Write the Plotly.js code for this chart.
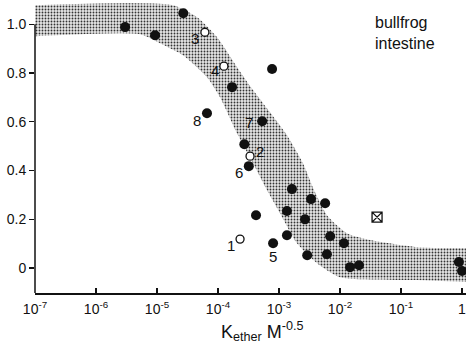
<!DOCTYPE html>
<html>
<head>
<meta charset="utf-8">
<script src="https://cdn.plot.ly/plotly-3.0.1.min.js"></script>
<style>html,body{margin:0;padding:0;background:#fff}#chart{width:466px;height:350px}</style>
</head>
<body>
<div id="chart"></div>
<script>
// Filled circles: K_ether (M^-0.5) and relative value
var filledX = [3.0e-6, 9.3e-6, 2.7e-5, 1.7e-4, 7.7e-4, 6.6e-5, 5.3e-4, 2.7e-4, 3.2e-4, 4.2e-4, 8.0e-4,
               1.35e-3, 1.35e-3, 1.63e-3, 2.67e-3, 2.9e-3, 3.35e-3, 5.7e-3, 6.9e-3, 6.1e-3, 1.16e-2,
               1.46e-2, 2.05e-2, 0.89, 1.0];
var filledY = [0.988, 0.955, 1.045, 0.742, 0.816, 0.635, 0.602, 0.508, 0.418, 0.217, 0.102,
               0.135, 0.234, 0.324, 0.200, 0.053, 0.283, 0.266, 0.131, 0.057, 0.102,
               0.004, 0.012, 0.025, -0.012];
var filledLabels = ['', '', '', '', '', '8', '7', '', '6', '', '5',
                    '', '', '', '', '', '', '', '', '', '',
                    '', '', '', ''];

// Open circles
var openX = [2.3e-4, 3.35e-4, 6.1e-5, 1.25e-4];
var openY = [0.119, 0.459, 0.967, 0.828];
var openLabels = ['1', '2', '3', '4'];

// Boxed cross
var boxX = [4.05e-2];
var boxY = [0.209];

// Shaded band edges
var bandUpperX = [1e-7, 1.83e-5, 4.5e-5, 9.6e-5, 2.05e-4, 3.75e-4, 7.1e-4, 1.35e-3, 2.47e-3, 3.75e-3, 6.1e-3, 1.3e-2, 3.1e-2, 0.183, 1.16];
var bandUpperY = [1.078, 1.078, 1.029, 0.947, 0.824, 0.730, 0.639, 0.545, 0.430, 0.320, 0.217, 0.143, 0.115, 0.086, 0.082];
var bandLowerX = [1e-7, 5.3e-6, 1.12e-5, 2.67e-5, 6.6e-5, 1.08e-4, 2.05e-4, 3.75e-4, 6.35e-4, 1.04e-3, 1.97e-3, 4.2e-3, 1.0e-2, 0.183, 1.16];
var bandLowerY = [0.951, 0.959, 0.922, 0.873, 0.783, 0.701, 0.553, 0.430, 0.320, 0.225, 0.102, 0.020, -0.037, -0.049, -0.057];

// Tick labels
var xTickVals = [1e-7, 1e-6, 1e-5, 1e-4, 1e-3, 1e-2, 1e-1, 1];
var xTickText = ['10<sup>-7</sup>', '10<sup>-6</sup>', '10<sup>-5</sup>', '10<sup>-4</sup>', '10<sup>-3</sup>', '10<sup>-2</sup>', '10<sup>-1</sup>', '1'];
var yTickVals = [0, 0.2, 0.4, 0.6, 0.8, 1.0];
var yTickText = ['0', '0.2', '0.4', '0.6', '0.8', '1.0'];

var ink = '#111';
var font = 'Liberation Sans, Arial, sans-serif';

// label offsets in pixels (style only), keyed by label text
var labelShift = {
  '1': [-9, -6], '2': [10, 5], '3': [-10, -6], '4': [-9, -4],
  '5': [0, -13], '6': [-10, -6], '7': [-13, -1], '8': [-10, -7]
};

var pattern = {shape: '.', size: 3, solidity: 0.3, fgcolor: '#333', bgcolor: '#e6e6e6'};

var traces = [
  {
    x: bandLowerX, y: bandLowerY, type: 'scatter', mode: 'lines',
    line: {width: 0, shape: 'spline', smoothing: 0.6},
    hoverinfo: 'skip', showlegend: false
  },
  {
    x: bandUpperX, y: bandUpperY, type: 'scatter', mode: 'lines', fill: 'tonexty',
    line: {width: 0, shape: 'spline', smoothing: 0.6},
    fillcolor: 'rgba(0,0,0,0)',
    fillpattern: pattern,
    hoverinfo: 'skip', showlegend: false
  },
  {
    x: filledX, y: filledY, type: 'scatter', mode: 'markers',
    marker: {size: 10, color: ink, symbol: 'circle'},
    showlegend: false
  },
  {
    x: openX, y: openY, type: 'scatter', mode: 'markers',
    marker: {size: 8, color: '#fff', symbol: 'circle', line: {color: ink, width: 1.3}},
    showlegend: false
  },
  {
    x: boxX, y: boxY, type: 'scatter', mode: 'markers',
    marker: {size: 10, color: ink, symbol: 'square-x-open', line: {color: ink, width: 1.3}},
    showlegend: false
  }
];

var annotations = [
  {xref: 'paper', yref: 'paper', x: 0.785, y: 0.967, xanchor: 'left', yanchor: 'top', align: 'left',
   showarrow: false, text: 'bullfrog<br>intestine', font: {family: font, size: 16, color: ink}},
  {xref: 'paper', yref: 'paper', x: 0.527, y: -0.133, xanchor: 'center', yanchor: 'middle',
   showarrow: false, text: 'K<sub>ether</sub> M<sup>-0.5</sup>', font: {family: font, size: 18, color: ink}}
];
function addLabels(xs, ys, labels) {
  for (var i = 0; i < labels.length; i++) {
    if (!labels[i]) continue;
    var s = labelShift[labels[i]] || [0, 0];
    annotations.push({
      x: Math.log10(xs[i]), y: ys[i], xref: 'x', yref: 'y', text: labels[i], showarrow: false,
      xshift: s[0], yshift: s[1], font: {family: font, size: 15, color: ink}
    });
  }
}
addLabels(filledX, filledY, filledLabels);
addLabels(openX, openY, openLabels);

var layout = {
  width: 466, height: 350,
  margin: {l: 35, r: 0, t: 2, b: 57},
  paper_bgcolor: '#fff', plot_bgcolor: '#fff',
  font: {family: font, size: 14, color: ink},
  showlegend: false,
  xaxis: {
    type: 'log', range: [-7, 0.0656],
    tickmode: 'array', tickvals: xTickVals, ticktext: xTickText,
    ticks: 'inside', ticklen: 5, tickcolor: ink, tickwidth: 1.3,
    ticklabeloverflow: 'allow', ticklabelstandoff: 3,
    showline: true, linecolor: ink, linewidth: 1.5,
    showgrid: false, zeroline: false,
    tickfont: {family: font, size: 14, color: ink}
  },
  yaxis: {
    range: [-0.102, 1.091],
    tickmode: 'array', tickvals: yTickVals, ticktext: yTickText,
    ticks: 'outside', ticklen: 5, tickcolor: ink, tickwidth: 1.3,
    showline: false, showgrid: false, zeroline: false,
    tickfont: {family: font, size: 14, color: ink}
  },
  shapes: [
    {type: 'line', xref: 'paper', yref: 'y', x0: 0, x1: 0, y0: -0.102, y1: 1.0,
     line: {color: ink, width: 1.5}, layer: 'above'}
  ],
  annotations: annotations
};

Plotly.newPlot('chart', traces, layout, {displayModeBar: false, staticPlot: true});
</script>
</body>
</html>
